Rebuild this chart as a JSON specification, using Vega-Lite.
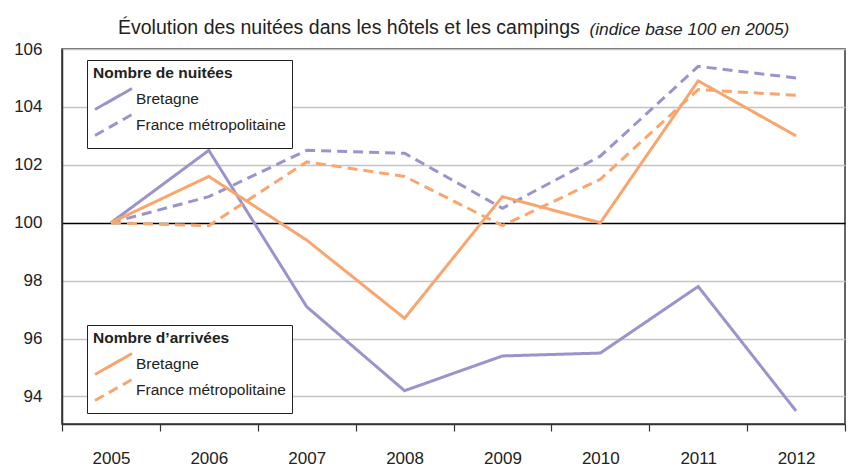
{
  "$schema": "https://vega.github.io/schema/vega-lite/v6.json",
  "width": 783,
  "height": 375,
  "autosize": "none",
  "padding": {"left": 62, "top": 49, "right": 3, "bottom": 44},
  "background": "white",
  "title": {
    "text": "Évolution des nuitées dans les hôtels et les campings",
    "anchor": "start",
    "frame": "group",
    "dx": 56,
    "dy": 48,
    "offset": 15,
    "baseline": "alphabetic",
    "font": "Liberation Sans",
    "fontSize": 19.5,
    "fontWeight": "normal",
    "color": "#222222"
  },
  "config": {
    "view": {"stroke": "#333333", "strokeWidth": 1.5},
    "font": "Liberation Sans",
    "legend": {
      "orient": "none",
      "titleFont": "Liberation Sans",
      "titleFontSize": 15.5,
      "titleFontWeight": "bold",
      "titleColor": "#222222",
      "labelFont": "Liberation Sans",
      "labelFontSize": 15.5,
      "labelColor": "#222222",
      "strokeColor": "#222222",
      "fillColor": "white",
      "padding": 6,
      "symbolType": "M-2.64,1.5L2.64,-1.5",
      "symbolSize": 196,
      "symbolStrokeWidth": 3,
      "symbolFillColor": "transparent",
      "symbolOffset": 12,
      "labelOffset": 14,
      "rowPadding": -7,
      "titlePadding": 9
    }
  },
  "datasets": {
    "nuitees": [
      {"annee": "2005", "zone": "Bretagne", "indice": 100},
      {"annee": "2006", "zone": "Bretagne", "indice": 102.5},
      {"annee": "2007", "zone": "Bretagne", "indice": 97.1},
      {"annee": "2008", "zone": "Bretagne", "indice": 94.2},
      {"annee": "2009", "zone": "Bretagne", "indice": 95.4},
      {"annee": "2010", "zone": "Bretagne", "indice": 95.5},
      {"annee": "2011", "zone": "Bretagne", "indice": 97.8},
      {"annee": "2012", "zone": "Bretagne", "indice": 93.5},
      {"annee": "2005", "zone": "France métropolitaine", "indice": 100},
      {"annee": "2006", "zone": "France métropolitaine", "indice": 100.9},
      {"annee": "2007", "zone": "France métropolitaine", "indice": 102.5},
      {"annee": "2008", "zone": "France métropolitaine", "indice": 102.4},
      {"annee": "2009", "zone": "France métropolitaine", "indice": 100.5},
      {"annee": "2010", "zone": "France métropolitaine", "indice": 102.3},
      {"annee": "2011", "zone": "France métropolitaine", "indice": 105.4},
      {"annee": "2012", "zone": "France métropolitaine", "indice": 105.0}
    ],
    "arrivees": [
      {"annee": "2005", "zone": "Bretagne", "indice": 100},
      {"annee": "2006", "zone": "Bretagne", "indice": 101.6},
      {"annee": "2007", "zone": "Bretagne", "indice": 99.4},
      {"annee": "2008", "zone": "Bretagne", "indice": 96.7},
      {"annee": "2009", "zone": "Bretagne", "indice": 100.9},
      {"annee": "2010", "zone": "Bretagne", "indice": 100.0},
      {"annee": "2011", "zone": "Bretagne", "indice": 104.9},
      {"annee": "2012", "zone": "Bretagne", "indice": 103.0},
      {"annee": "2005", "zone": "France métropolitaine", "indice": 100},
      {"annee": "2006", "zone": "France métropolitaine", "indice": 99.9},
      {"annee": "2007", "zone": "France métropolitaine", "indice": 102.1},
      {"annee": "2008", "zone": "France métropolitaine", "indice": 101.6},
      {"annee": "2009", "zone": "France métropolitaine", "indice": 99.9},
      {"annee": "2010", "zone": "France métropolitaine", "indice": 101.5},
      {"annee": "2011", "zone": "France métropolitaine", "indice": 104.6},
      {"annee": "2012", "zone": "France métropolitaine", "indice": 104.4}
    ]
  },
  "encoding": {
    "x": {
      "field": "annee",
      "type": "ordinal",
      "bandPosition": 0.5,
      "scale": {"type": "band", "paddingInner": 0, "paddingOuter": 0},
      "axis": {
        "title": null,
        "labelAngle": 0,
        "tickBand": "extent",
        "tickSize": 7,
        "tickColor": "#333333",
        "tickWidth": 1.2,
        "domainColor": "#333333",
        "domainWidth": 1.5,
        "labelPadding": 19,
        "labelFont": "Liberation Sans",
        "labelFontSize": 17,
        "labelBaseline": "top",
        "labelColor": "#222222",
        "grid": false
      }
    },
    "y": {
      "field": "indice",
      "type": "quantitative",
      "scale": {"domain": [93.05, 106], "nice": false, "zero": false},
      "axis": {
        "values": [94, 96, 98, 100, 102, 104, 106],
        "title": "(indice base 100 en 2005)",
        "titleAngle": 0,
        "titleAlign": "left",
        "titleBaseline": "alphabetic",
        "titleX": 527,
        "titleY": -15,
        "titleFont": "Liberation Sans",
        "titleFontStyle": "italic",
        "titleFontWeight": "normal",
        "titleFontSize": 17.3,
        "titleColor": "#222222",
        "labelFont": "Liberation Sans",
        "labelFontSize": 17,
        "labelPadding": 20,
        "labelColor": "#222222",
        "ticks": false,
        "domainColor": "#333333",
        "domainWidth": 1.5,
        "grid": true,
        "gridColor": {"condition": {"test": "datum.value === 100", "value": "#000000"}, "value": "#c4c4c4"},
        "gridWidth": 1.5
      }
    }
  },
  "layer": [
    {
      "data": {"name": "nuitees"},
      "mark": {"type": "line", "strokeWidth": 3, "color": "#9b94cb"},
      "encoding": {
        "strokeDash": {
          "field": "zone",
          "type": "nominal",
          "scale": {"domain": ["Bretagne", "France métropolitaine"], "range": [[1, 0], [10, 6]]},
          "legend": {
            "title": "Nombre de nuitées",
            "orient": "none",
            "legendX": 25,
            "legendY": 11,
            "symbolStrokeColor": "#9b94cb"
          }
        }
      }
    },
    {
      "data": {"name": "arrivees"},
      "mark": {"type": "line", "strokeWidth": 3, "color": "#f8a66d"},
      "encoding": {
        "strokeDash": {
          "field": "zone",
          "type": "nominal",
          "scale": {"domain": ["Bretagne", "France métropolitaine"], "range": [[1, 0], [10, 6]]},
          "legend": {
            "title": "Nombre d’arrivées",
            "orient": "none",
            "legendX": 25,
            "legendY": 276,
            "symbolStrokeColor": "#f8a66d"
          }
        }
      }
    }
  ],
  "resolve": {"scale": {"strokeDash": "independent"}, "legend": {"strokeDash": "independent"}}
}
